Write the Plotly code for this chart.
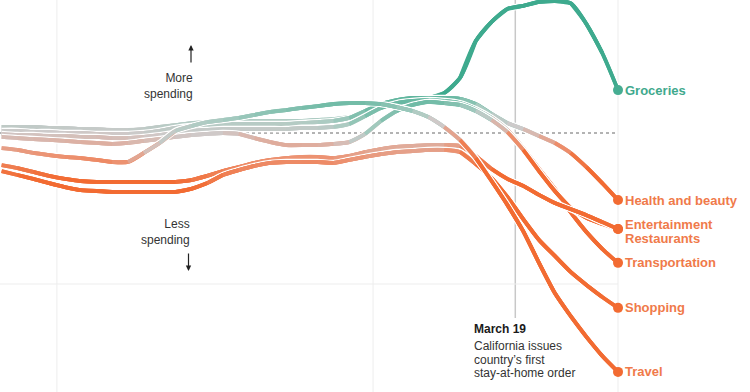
import plotly.graph_objects as go
import pandas as pd
from datetime import datetime, timedelta

# ---------------- data (percent change in spending) ----------------
DATES = [d.strftime("%Y-%m-%d") for d in pd.date_range("2020-01-14", "2020-04-01", freq="2D")]

GROCERIES = [2.0, 2.0, 2.0, 1.7, 1.7, 1.3, 1.3, 1.0, 1.0, 1.3, 2.0, 2.6, 3.3, 3.6, 4.0, 4.0, 4.0, 4.0, 4.0, 4.0,
             4.3, 4.6, 5.3, 7.0, 9.3, 10.6, 11.3, 11.6, 13.2, 18.2, 30.5, 36.8, 41.1, 42.1, 43.4, 43.7, 43.0, 36.1, 26.5, 14.2]
HEALTH = [0.7, 0.7, 0.3, 0.3, 0, 0, -0.3, -0.3, -0.3, 0, 0.7, 1.7, 2.3, 2.6, 3.0, 3.0, 3.0, 3.0, 3.0, 3.3,
          3.6, 4.0, 5.0, 7.3, 9.6, 10.9, 11.6, 11.6, 11.6, 11.3, 9.6, 6.3, 3.3, 1.3, -1.0, -3.3, -6.6, -11.3, -16.6, -22.2]
TRANSPORT = [-0.3, -0.7, -0.7, -1.0, -1.0, -1.3, -1.3, -1.7, -1.7, -1.3, -0.7, 0, 0.7, 1.0, 1.3, 1.3, 1.3, 1.3, 1.3, 1.7,
             1.7, 2.0, 3.0, 5.6, 8.3, 9.9, 10.6, 10.9, 10.6, 9.9, 7.9, 5.0, 1.0, -5.0, -11.9, -18.5, -26.2, -32.8, -38.4, -43.0]
RESTAURANTS = [-1.3, -1.7, -2.0, -2.3, -2.6, -3.0, -3.3, -3.6, -3.3, -2.6, -2.0, -1.3, -0.7, -0.3, 0, -0.3, -1.7, -3.0, -4.0, -4.0,
               -4.0, -3.6, -3.0, -0.3, 4.0, 7.3, 9.3, 10.3, 9.9, 9.3, 7.3, 4.3, 0.3, -5.6, -12.6, -19.2, -24.8, -28.1, -30.1, -31.8]
TRAVEL = [-5.0, -5.6, -6.6, -7.3, -7.9, -8.3, -8.9, -9.6, -9.6, -6.6, -3.3, 0.7, 2.3, 3.6, 4.3, 5.0, 6.0, 7.0, 7.6, 8.3,
          8.9, 9.6, 9.9, 9.9, 9.6, 8.6, 7.3, 5.3, 2.0, -2.3, -8.3, -15.9, -23.8, -32.5, -43.0, -53.0, -60.6, -67.5, -73.8, -79.1]
ENTERTAINMENT = [-10.6, -11.6, -12.9, -14.2, -15.2, -15.9, -16.2, -16.2, -16.2, -16.2, -16.2, -16.2, -15.6, -14.2, -12.6, -11.3, -9.9, -8.9, -8.3, -7.9,
                 -7.9, -8.3, -7.6, -6.3, -5.3, -4.6, -4.3, -4.0, -4.0, -4.3, -7.6, -11.9, -15.2, -17.5, -20.5, -23.2, -25.2, -27.2, -29.5, -31.8]
SHOPPING = [-12.6, -13.9, -15.2, -16.6, -17.9, -18.9, -19.2, -19.5, -19.5, -19.5, -19.5, -19.5, -18.5, -16.6, -13.9, -12.3, -10.9, -9.9, -9.6, -9.6,
            -9.6, -9.9, -8.9, -7.9, -7.0, -6.3, -6.0, -5.6, -5.6, -6.3, -10.3, -14.9, -21.2, -28.5, -35.4, -40.7, -46.0, -50.3, -54.3, -57.9]

SERIES = [
    ("Groceries", GROCERIES),
    ("Health and beauty", HEALTH),
    ("Transportation", TRANSPORT),
    ("Restaurants", RESTAURANTS),
    ("Entertainment", ENTERTAINMENT),
    ("Shopping", SHOPPING),
    ("Travel", TRAVEL),
]
LABEL_SHIFT = {"Entertainment": 5, "Restaurants": -9}
GRID_DATES = ["2020-01-21", "2020-03-01", "2020-04-01"]
EVENT_DATE = "2020-03-19"

# ---------------- colours ----------------
STOPS = [(-16, (242, 107, 50)), (-8, (236, 146, 114)), (-3, (220, 178, 166)), (0, (206, 202, 202)),
         (5, (168, 203, 193)), (10, (112, 187, 166)), (15, (62, 170, 142))]


def col(v):
    if v <= STOPS[0][0]:
        c = STOPS[0][1]
    elif v >= STOPS[-1][0]:
        c = STOPS[-1][1]
    else:
        for (a, ca), (b, cb) in zip(STOPS[:-1], STOPS[1:]):
            if a <= v <= b:
                t = (v - a) / (b - a)
                c = tuple(ca[k] + (cb[k] - ca[k]) * t for k in range(3))
                break
    return "rgb(%d,%d,%d)" % tuple(round(x) for x in c)


TEAL_TXT = "#3fa98d"
ORANGE_TXT = "#f07a4a"
SMOOTH = 0.75

fig = go.Figure()

for name, vals in SERIES:
    fig.add_trace(go.Scatter(x=DATES, y=vals, mode="lines",
                             line=dict(color="white", width=6.5, shape="spline", smoothing=SMOOTH),
                             hoverinfo="skip", showlegend=False))
    n = len(vals)
    # each piece i -> i+1 drawn within a short spline window so it follows the smooth curve
    for i in range(n - 1):
        a = max(i - 1, 0)
        b = min(i + 3, n)
        fig.add_trace(go.Scatter(x=DATES[a:b], y=vals[a:b], mode="lines",
                                 line=dict(color=col((vals[i] + vals[i + 1]) / 2), width=3.8,
                                           shape="spline", smoothing=SMOOTH),
                                 hoverinfo="skip", showlegend=False))

for name, vals in SERIES:
    fig.add_trace(go.Scatter(x=[DATES[-1]], y=[vals[-1]], mode="markers",
                             marker=dict(size=10, color=col(vals[-1])),
                             hoverinfo="skip", showlegend=False))
    fig.add_annotation(x=DATES[-1], y=vals[-1], xref="x", yref="y", text=name, showarrow=False,
                       xanchor="left", yanchor="middle", xshift=5, yshift=LABEL_SHIFT.get(name, 0),
                       font=dict(family="Liberation Sans", size=13, weight="bold",
                                 color=TEAL_TXT if vals[-1] > 0 else ORANGE_TXT))

# ---------------- layout geometry ----------------
W, H = 750, 392
PX_PER_DAY = 7.903
x_left = datetime(2020, 1, 14) - timedelta(days=1.6 / PX_PER_DAY)
x_right = x_left + timedelta(days=W / PX_PER_DAY)
PX_PER_PCT = 3.02
y_top = 133 / PX_PER_PCT
y_bot = -(H - 133) / PX_PER_PCT

shapes = []
for g in GRID_DATES:
    shapes.append(dict(type="line", xref="x", yref="paper", x0=g, x1=g, y0=0, y1=1,
                       line=dict(color="#ededed", width=1), layer="below"))
shapes.append(dict(type="line", xref="x", yref="y", x0=x_left, x1=DATES[-1], y0=-50, y1=-50,
                   line=dict(color="#ededed", width=1), layer="below"))
shapes.append(dict(type="line", xref="x", yref="y", x0=x_left, x1=DATES[-1], y0=0, y1=0,
                   line=dict(color="#9a9a9a", width=1.3, dash="dot"), layer="below"))
shapes.append(dict(type="line", xref="x", yref="paper", x0=EVENT_DATE, x1=EVENT_DATE,
                   y0=1 - 318 / H, y1=1, line=dict(color="#c8c8c8", width=1.5), layer="below"))


def py(p):
    return 1 - p / H


def px(p):
    return p / W


# vertical arrows (annotation arrows; tail offset in pixels)
for (xa, y_from, y_to) in [(191, 64, 45), (188.5, 252, 271)]:
    fig.add_annotation(x=px(xa), y=py(y_to), xref="paper", yref="paper",
                       ax=0, ay=(y_from - y_to), text="", showarrow=True,
                       arrowhead=2, arrowsize=0.9, arrowwidth=1.2, arrowcolor="#222")

notes = [
    dict(text="More<br>spending", x=px(195), y=py(85.5), xanchor="right", size=12, color="#333", align="right"),
    dict(text="Less<br>spending", x=px(192), y=py(232), xanchor="right", size=12, color="#333", align="right"),
    dict(text="<b>March 19</b>", x=px(472), y=py(329), xanchor="left", size=12, color="#1a1a1a"),
    dict(text="California issues", x=px(472), y=py(346), xanchor="left", size=12, color="#333"),
    dict(text="country’s first", x=px(472), y=py(359.5), xanchor="left", size=12, color="#333"),
    dict(text="stay-at-home order", x=px(472), y=py(373), xanchor="left", size=12, color="#333"),
]
for a in notes:
    fig.add_annotation(x=a["x"], y=a["y"], xref="paper", yref="paper", text=a["text"], showarrow=False,
                       xanchor=a["xanchor"], yanchor="middle", align=a.get("align", "left"),
                       font=dict(family="Liberation Sans", size=a["size"], color=a["color"]))

fig.update_layout(
    width=W, height=H, margin=dict(l=0, r=0, t=0, b=0),
    paper_bgcolor="white", plot_bgcolor="white", showlegend=False,
    xaxis=dict(range=[x_left, x_right], visible=False, showgrid=False, zeroline=False, fixedrange=True),
    yaxis=dict(range=[y_bot, y_top], visible=False, showgrid=False, zeroline=False, fixedrange=True),
    shapes=shapes,
)

fig.write_html("out.html", config={"displayModeBar": False},
               post_script="document.body.style.margin='0';document.body.style.padding='0';document.body.style.overflow='hidden';")
